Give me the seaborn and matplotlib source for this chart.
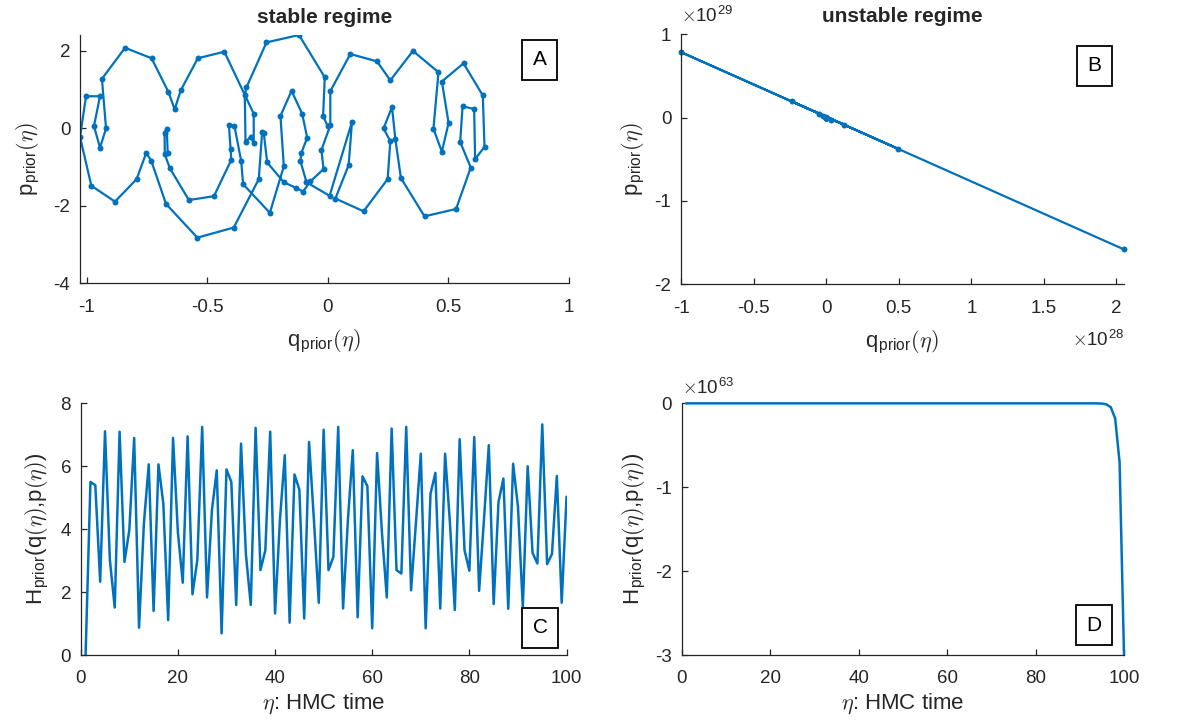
import numpy as np
import pandas as pd
import matplotlib
matplotlib.use("Agg")
import matplotlib.pyplot as plt
import seaborn as sns
from matplotlib.ticker import FuncFormatter

# ---------------- data ----------------
# Panel A: stable-regime phase-space trajectory
q_stable = [0.000, -0.019, -0.012, -0.119, -0.254, -0.337, -0.344, -0.341, -0.320, -0.307,
            -0.307, -0.429, -0.539, -0.610, -0.635, -0.661, -0.731, -0.841, -0.937, -0.920,
            -0.945, -0.970, -0.945, -1.003, -1.028, -0.981, -0.883, -0.793, -0.753, -0.732,
            -0.671, -0.541, -0.390, -0.286, -0.272, -0.265, -0.251, -0.182, -0.130, -0.102,
            -0.072, -0.017, -0.026, 0.011, 0.011, 0.094, 0.205, 0.260, 0.354, 0.460,
            0.439, 0.474, 0.502, 0.474, 0.564, 0.644, 0.651, 0.612, 0.608, 0.560,
            0.550, 0.594, 0.533, 0.402, 0.304, 0.281, 0.267, 0.232, 0.260, 0.249,
            0.149, 0.032, 0.087, 0.101, 0.008, -0.088, -0.113, -0.109, -0.085, -0.106,
            -0.150, -0.196, -0.182, -0.240, -0.351, -0.359, -0.387, -0.410, -0.403, -0.400,
            -0.472, -0.576, -0.655, -0.676, -0.677, -0.668, -0.664]
p_stable = [0.06, 0.32, 1.32, 2.41, 2.22, 1.06, 0.85, -0.35, -0.22, -0.38,
            0.38, 1.98, 1.81, 0.98, 0.49, 0.94, 1.81, 2.08, 1.28, 0.00,
            -0.50, 0.06, 0.83, 0.83, -0.22, -1.48, -1.89, -1.31, -0.63, -0.84,
            -1.95, -2.82, -2.56, -1.31, -0.09, -0.13, -0.88, -1.39, -1.54, -1.63,
            -1.37, -1.05, -0.56, 0.08, 0.96, 1.92, 1.73, 1.24, 2.00, 1.45,
            -0.01, -0.60, 0.14, 1.21, 1.68, 0.85, -0.48, -0.79, 0.50, 0.57,
            -0.35, -1.01, -2.08, -2.27, -1.28, -0.28, 0.55, 0.00, -0.33, -1.31,
            -2.14, -1.81, -0.95, 0.17, -1.74, -1.39, -0.84, -0.63, -0.24, 0.38,
            0.97, 0.32, -0.98, -2.18, -1.44, -0.84, 0.06, 0.10, -0.54, -0.81,
            -1.75, -1.85, -1.03, -0.67, -0.11, -0.01, -0.63]

# Panel C: stable-regime Hamiltonian over HMC time
eta = list(range(1, 101))
H_stable = [0.00, 5.50, 5.40, 2.33, 7.11, 3.02, 1.51, 7.10, 2.96, 3.97,
            6.90, 0.87, 4.18, 6.06, 1.40, 6.06, 4.81, 1.11, 6.90, 3.90,
            2.30, 6.95, 1.93, 3.02, 7.25, 1.83, 4.60, 5.87, 0.69, 5.90,
            5.50, 1.59, 6.72, 3.20, 1.59, 7.22, 2.70, 3.33, 7.10, 1.32,
            4.29, 6.35, 1.03, 5.74, 5.26, 1.16, 6.77, 4.29, 1.66, 7.16,
            2.70, 3.12, 7.25, 1.48, 4.30, 6.51, 1.20, 5.68, 5.37, 0.85,
            6.42, 3.90, 1.83, 7.20, 2.70, 2.59, 7.25, 2.06, 4.20, 6.40,
            0.85, 5.13, 5.79, 1.48, 6.40, 4.20, 1.43, 6.86, 3.33, 2.68,
            6.93, 2.04, 4.30, 6.67, 1.62, 4.87, 5.61, 1.47, 6.08, 4.71,
            1.52, 6.00, 3.25, 2.91, 7.33, 2.89, 3.21, 5.69, 1.66, 5.03]

# Panel B: unstable-regime phase-space trajectory
q_unstable = [0.0, 0.0, 4e24, -9e24, 2e25, -4e25, 9e25, -2e26, 3.5e26, -5.2e26,
              1.23e27, -2.38e27, 4.97e27, -1.0e28, 2.051e28]
p_unstable = [0.0, 0.0, -3e25, 7e25, -1.5e26, 3e26, -7e26, 1.5e27, -2.8e27, 4.8e27,
              -8.4e27, 1.96e28, -3.75e28, 7.86e28, -1.581e29]

# Panel D: unstable-regime Hamiltonian over HMC time
H_unstable = [0.0] * 92 + [-2e59, -1e60, -3e60, -1.2e61, -4.5e61, -1.8e62, -7.0e62, -3.0e63]

# ---------------- styling ----------------
sns.set_style("ticks")
plt.rcParams["font.family"] = ["Liberation Sans", "DejaVu Sans"]
plt.rcParams["mathtext.fontset"] = "cm"
plt.rcParams["axes.unicode_minus"] = False

BLUE = "#0072BD"
DARK = "#262626"
TICK_FS = 13.5
LABEL_FS = 16
TITLE_FS = 15

fig = plt.figure(figsize=(11.96, 7.21), dpi=100)
axA = fig.add_axes([0.0669, 0.607, 0.4085, 0.3444])
axB = fig.add_axes([0.5694, 0.6057, 0.3703, 0.3467])
axC = fig.add_axes([0.0675, 0.0915, 0.4062, 0.3491])
axD = fig.add_axes([0.5700, 0.0915, 0.3698, 0.3491])


def style(ax):
    sns.despine(ax=ax)
    for s in ("left", "bottom"):
        ax.spines[s].set_color(DARK)
        ax.spines[s].set_linewidth(0.9)
    ax.tick_params(direction="in", length=4, width=0.9, color=DARK,
                   labelcolor=DARK, labelsize=TICK_FS)
    ax.tick_params(axis="x", pad=11)
    ax.tick_params(axis="y", pad=7)
    ax.set_facecolor("white")


def box(ax, x, y, s):
    ax.text(x, y, s, transform=ax.transAxes, ha="center", va="center",
            fontsize=15, color="black", zorder=10,
            bbox=dict(boxstyle="square,pad=0.5", fc="white", ec="black", lw=1.3))


g = FuncFormatter(lambda v, _: "%g" % round(v, 6))
eta_lab = r"$\eta$"
q_lab = r"q$_{\mathregular{prior}}$$(\eta)$"
p_lab = r"p$_{\mathregular{prior}}$$(\eta)$"
H_lab = r"H$_{\mathregular{prior}}$(q$(\eta)$,p$(\eta)$)"

# ---- Panel A ----
dfA = pd.DataFrame({"q": q_stable, "p": p_stable})
sns.lineplot(data=dfA, x="q", y="p", sort=False, estimator=None, ax=axA,
             color=BLUE, lw=1.6, marker="o", markersize=4.3, markeredgewidth=0)
axA.set_xlim(-1.028, 1)
axA.set_ylim(-4, 2.41)
axA.set_xticks([-1, -0.5, 0, 0.5, 1])
axA.set_yticks([-4, -2, 0, 2])
axA.xaxis.set_major_formatter(g)
axA.yaxis.set_major_formatter(g)
style(axA)
axA.set_xlabel(q_lab, fontsize=LABEL_FS, color=DARK, labelpad=9)
axA.set_ylabel(p_lab, fontsize=LABEL_FS, color=DARK, labelpad=8)
axA.set_title("stable regime", fontsize=TITLE_FS, fontweight="bold", pad=9)
box(axA, 0.941, 0.901, "A")

# ---- Panel B ----
dfB = pd.DataFrame({"q": q_unstable, "p": p_unstable})
sns.lineplot(data=dfB, x="q", y="p", sort=False, estimator=None, ax=axB,
             color=BLUE, lw=1.6, marker="o", markersize=4.3, markeredgewidth=0,
             clip_on=False)
axB.set_xlim(-1.0e28, 2.051e28)
axB.set_ylim(-2e29, 1e29)
axB.set_xticks([-1e28, -0.5e28, 0, 0.5e28, 1e28, 1.5e28, 2e28])
axB.set_yticks([-2e29, -1e29, 0, 1e29])
axB.xaxis.set_major_formatter(FuncFormatter(lambda v, _: "%g" % round(v / 1e28, 6)))
axB.yaxis.set_major_formatter(FuncFormatter(lambda v, _: "%g" % round(v / 1e29, 6)))
style(axB)
axB.set_xlabel(q_lab, fontsize=LABEL_FS, color=DARK, labelpad=9)
axB.set_ylabel(p_lab, fontsize=LABEL_FS, color=DARK, labelpad=5)
axB.set_title("unstable regime", fontsize=TITLE_FS, fontweight="bold", pad=9)
axB.text(0.0, 1.035, r"$\times$10$^{\mathregular{29}}$", transform=axB.transAxes,
         ha="left", va="bottom", fontsize=TICK_FS, color=DARK)
axB.text(1.0, -0.18, r"$\times$10$^{\mathregular{28}}$", transform=axB.transAxes,
         ha="right", va="top", fontsize=TICK_FS, color=DARK)
box(axB, 0.933, 0.874, "B")

# ---- Panel C ----
dfC = pd.DataFrame({"eta": eta, "H": H_stable})
sns.lineplot(data=dfC, x="eta", y="H", estimator=None, ax=axC, color=BLUE, lw=1.8)
axC.set_xlim(0, 100)
axC.set_ylim(0, 8)
axC.set_xticks([0, 20, 40, 60, 80, 100])
axC.set_yticks([0, 2, 4, 6, 8])
axC.xaxis.set_major_formatter(g)
axC.yaxis.set_major_formatter(g)
style(axC)
axC.set_xlabel(eta_lab + ": HMC time", fontsize=LABEL_FS, color=DARK, labelpad=3)
axC.set_ylabel(H_lab, fontsize=LABEL_FS, color=DARK, labelpad=7)
box(axC, 0.9455, 0.108, "C")

# ---- Panel D ----
dfD = pd.DataFrame({"eta": eta, "H": H_unstable})
sns.lineplot(data=dfD, x="eta", y="H", estimator=None, ax=axD, color=BLUE, lw=1.8,
             clip_on=False)
axD.set_xlim(0, 100)
axD.set_ylim(-3e63, 0)
axD.set_xticks([0, 20, 40, 60, 80, 100])
axD.set_yticks([-3e63, -2e63, -1e63, 0])
axD.xaxis.set_major_formatter(g)
axD.yaxis.set_major_formatter(FuncFormatter(lambda v, _: "%g" % round(v / 1e63, 6)))
style(axD)
axD.set_xlabel(eta_lab + ": HMC time", fontsize=LABEL_FS, color=DARK, labelpad=3)
axD.set_ylabel(H_lab, fontsize=LABEL_FS, color=DARK, labelpad=5)
axD.text(0.0, 1.02, r"$\times$10$^{\mathregular{63}}$", transform=axD.transAxes,
         ha="left", va="bottom", fontsize=TICK_FS, color=DARK)
box(axD, 0.932, 0.118, "D")

fig.savefig("out.png", dpi=100, facecolor="white")
